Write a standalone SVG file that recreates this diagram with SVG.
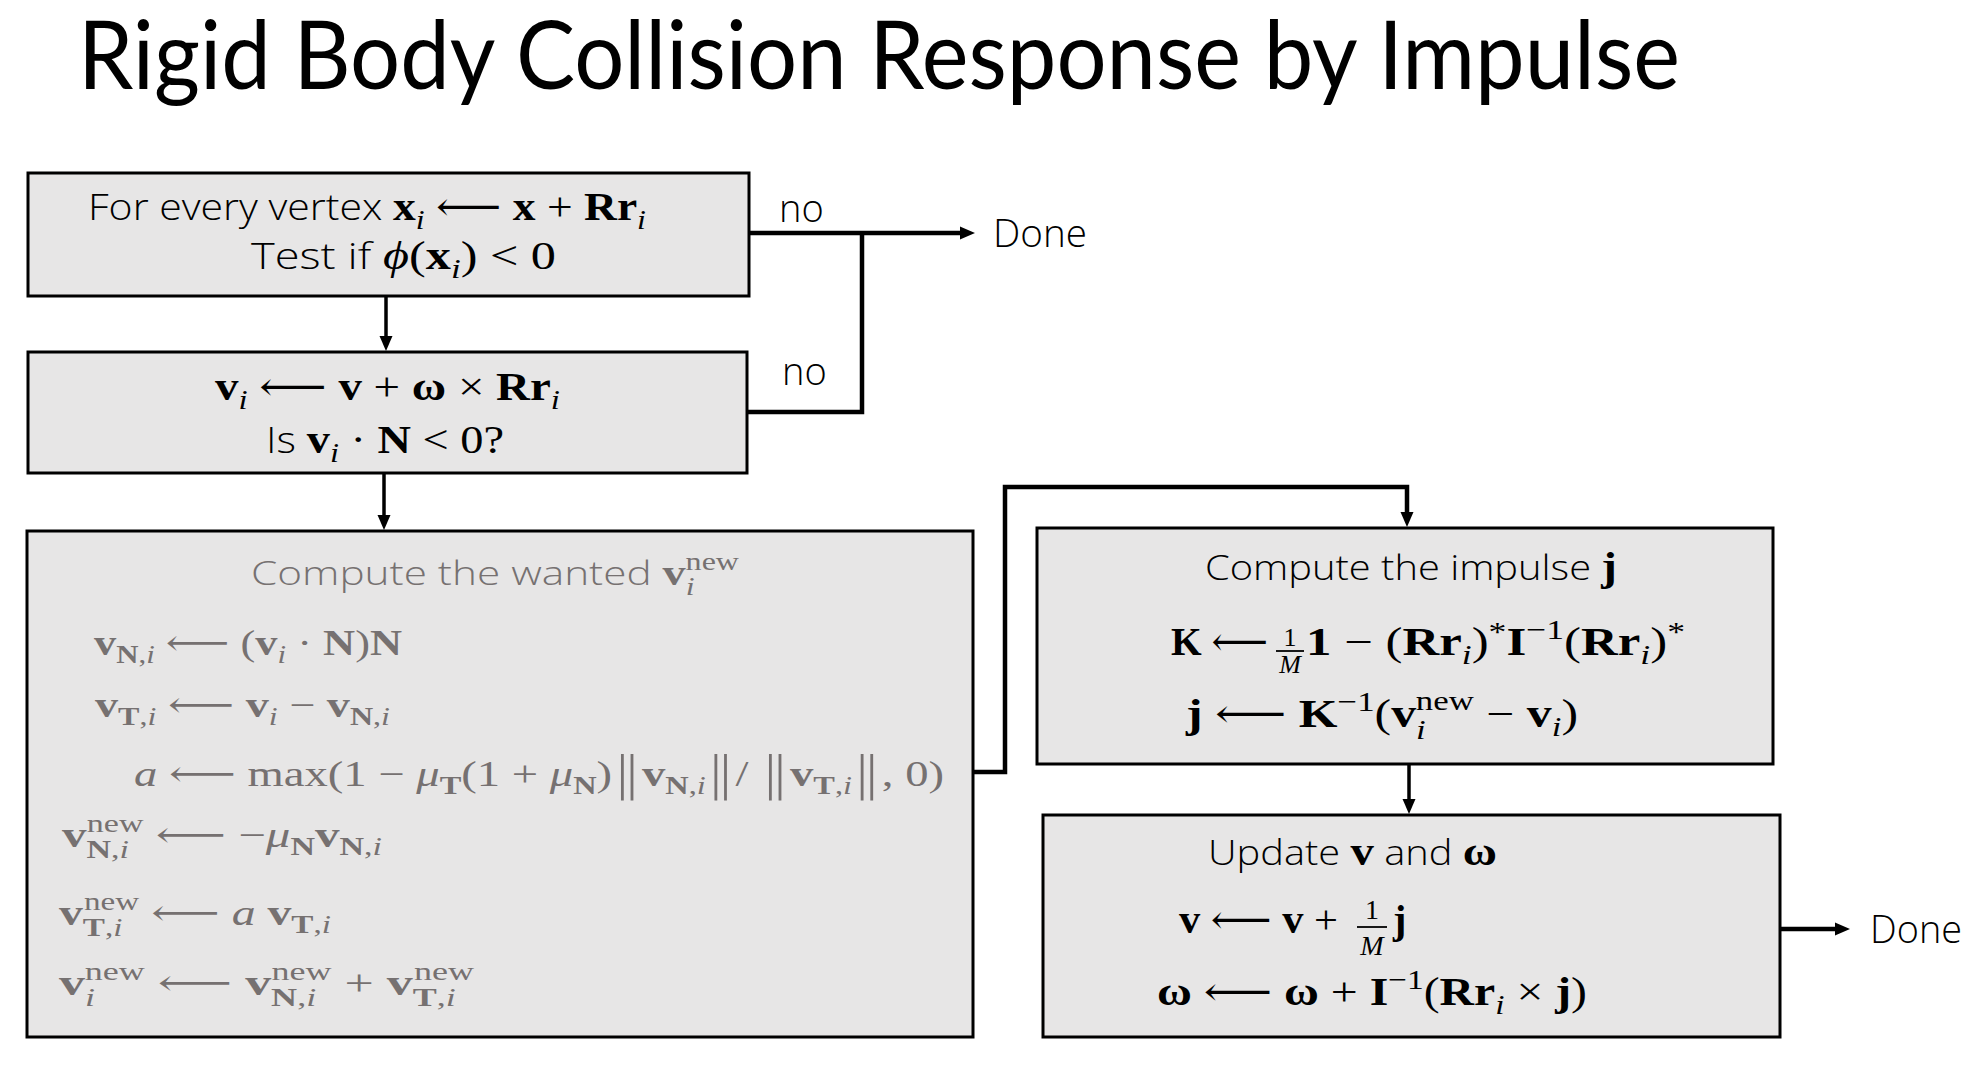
<svg xmlns="http://www.w3.org/2000/svg" width="1978" height="1072" viewBox="0 0 1978 1072">
<style>
.box{fill:#e7e6e6;stroke:#000;stroke-width:3}
.tx{font-family:"Open Sans","Noto Sans",sans-serif;font-weight:300}
.mf{font-family:"Liberation Serif","DejaVu Serif",serif}
.L{font-size:40px}.S{font-size:28px}.L3{font-size:36px}.S3{font-size:25px}
.nb{font-family:"DejaVu Sans",sans-serif;font-size:46px;font-weight:300}
.bd{font-weight:700}.it{font-style:italic}
.gray{fill:#767171}
.conn{fill:none;stroke:#000;stroke-width:4.5}
.thin{stroke-width:3.5}
</style>
<defs>
<marker id="ah" markerUnits="userSpaceOnUse" markerWidth="16" markerHeight="14" refX="4" refY="7" orient="auto">
<path d="M0,0.5 L15,7 L0,13.5 z" fill="#000"/>
</marker>
</defs>
<rect width="1978" height="1072" fill="#fff"/>
<text id="title" x="78" y="89" font-family="Lato,'Open Sans',sans-serif" font-size="95" textLength="1602" lengthAdjust="spacingAndGlyphs">Rigid Body Collision Response by Impulse</text>

<g id="node-test">
<rect class="box" x="28" y="173" width="721" height="123"/>
<text class="tx" x="88" y="220" font-size="36" textLength="558" lengthAdjust="spacingAndGlyphs">For every vertex <tspan class="mf L bd">x</tspan><tspan class="mf S it" dy="9">i</tspan><tspan class="mf L" dy="-9"> ⟵ </tspan><tspan class="mf L bd">x</tspan><tspan class="mf L"> + </tspan><tspan class="mf L bd">Rr</tspan><tspan class="mf S it" dy="9">i</tspan></text>
<text class="tx" x="251" y="269" font-size="36" textLength="305" lengthAdjust="spacingAndGlyphs">Test if <tspan class="mf L it">ϕ</tspan><tspan class="mf L">(</tspan><tspan class="mf L bd">x</tspan><tspan class="mf S it" dy="9">i</tspan><tspan class="mf L" dy="-9">) &lt; 0</tspan></text>
</g>

<g id="node-velocity">
<rect class="box" x="28" y="352" width="719" height="121"/>
<text class="mf L" x="215" y="400" textLength="345" lengthAdjust="spacingAndGlyphs"><tspan class="bd">v</tspan><tspan class="S it" dy="9">i</tspan><tspan dy="-9"> ⟵ </tspan><tspan class="bd">v</tspan> + <tspan class="bd">ω</tspan> × <tspan class="bd">Rr</tspan><tspan class="S it" dy="9">i</tspan></text>
<text class="tx" x="266" y="453" font-size="36" textLength="238" lengthAdjust="spacingAndGlyphs">Is <tspan class="mf L bd">v</tspan><tspan class="mf S it" dy="9">i</tspan><tspan class="mf L" dy="-9"> · </tspan><tspan class="mf L bd">N</tspan><tspan class="mf L"> &lt; 0?</tspan></text>
</g>

<g id="node-wanted" class="gray">
<rect class="box" x="27" y="531" width="946" height="506"/>
<text class="tx" x="251" y="585" font-size="33" textLength="488" lengthAdjust="spacingAndGlyphs">Compute the wanted <tspan class="mf L3 bd">v</tspan><tspan class="mf S3 it" dy="10">i</tspan><tspan class="mf S3" dx="-7" dy="-25">new</tspan></text>
<text class="mf L3" x="94" y="655" textLength="308" lengthAdjust="spacingAndGlyphs"><tspan class="bd">v</tspan><tspan class="S3" dy="8"><tspan class="bd">N</tspan>,<tspan class="it">i</tspan></tspan><tspan dy="-8"> ⟵ (</tspan><tspan class="bd">v</tspan><tspan class="S3 it" dy="8">i</tspan><tspan dy="-8"> · </tspan><tspan class="bd">N</tspan>)<tspan class="bd">N</tspan></text>
<text class="mf L3" x="95" y="717" textLength="295" lengthAdjust="spacingAndGlyphs"><tspan class="bd">v</tspan><tspan class="S3" dy="8"><tspan class="bd">T</tspan>,<tspan class="it">i</tspan></tspan><tspan dy="-8"> ⟵ </tspan><tspan class="bd">v</tspan><tspan class="S3 it" dy="8">i</tspan><tspan dy="-8"> − </tspan><tspan class="bd">v</tspan><tspan class="S3" dy="8"><tspan class="bd">N</tspan>,<tspan class="it">i</tspan></tspan></text>
<text class="mf L3" x="134" y="786" textLength="810" lengthAdjust="spacingAndGlyphs"><tspan class="it">a</tspan> ⟵ max(1 − <tspan class="it">μ</tspan><tspan class="S3 bd" dy="8">T</tspan><tspan dy="-8">(1 + </tspan><tspan class="it">μ</tspan><tspan class="S3 bd" dy="8">N</tspan><tspan dy="-8">)</tspan><tspan class="nb" dy="3">‖</tspan><tspan class="bd" dy="-3">v</tspan><tspan class="S3" dy="8"><tspan class="bd">N</tspan>,<tspan class="it">i</tspan></tspan><tspan class="nb" dy="-5">‖</tspan><tspan dy="-3">/ </tspan><tspan class="nb" dy="3">‖</tspan><tspan class="bd" dy="-3">v</tspan><tspan class="S3" dy="8"><tspan class="bd">T</tspan>,<tspan class="it">i</tspan></tspan><tspan class="nb" dy="-5">‖</tspan><tspan dy="-3">, 0)</tspan></text>
<text class="mf L3" x="62" y="847" textLength="320" lengthAdjust="spacingAndGlyphs"><tspan class="bd">v</tspan><tspan class="S3" dy="11"><tspan class="bd">N</tspan>,<tspan class="it">i</tspan></tspan><tspan class="S3" dx="-31" dy="-26">new</tspan><tspan dy="15"> ⟵ −</tspan><tspan class="it">μ</tspan><tspan class="S3 bd" dy="8">N</tspan><tspan class="bd" dy="-8">v</tspan><tspan class="S3" dy="8"><tspan class="bd">N</tspan>,<tspan class="it">i</tspan></tspan></text>
<text class="mf L3" x="59" y="925" textLength="272" lengthAdjust="spacingAndGlyphs"><tspan class="bd">v</tspan><tspan class="S3" dy="11"><tspan class="bd">T</tspan>,<tspan class="it">i</tspan></tspan><tspan class="S3" dx="-29" dy="-26">new</tspan><tspan dy="15"> ⟵ </tspan><tspan class="it">a</tspan> <tspan class="bd">v</tspan><tspan class="S3" dy="8"><tspan class="bd">T</tspan>,<tspan class="it">i</tspan></tspan></text>
<text class="mf L3" x="59" y="995" textLength="415" lengthAdjust="spacingAndGlyphs"><tspan class="bd">v</tspan><tspan class="S3 it" dy="11">i</tspan><tspan class="S3" dx="-7" dy="-26">new</tspan><tspan dy="15"> ⟵ </tspan><tspan class="bd">v</tspan><tspan class="S3" dy="11"><tspan class="bd">N</tspan>,<tspan class="it">i</tspan></tspan><tspan class="S3" dx="-31" dy="-26">new</tspan><tspan dy="15"> + </tspan><tspan class="bd">v</tspan><tspan class="S3" dy="11"><tspan class="bd">T</tspan>,<tspan class="it">i</tspan></tspan><tspan class="S3" dx="-29" dy="-26">new</tspan></text>
</g>

<g id="node-impulse">
<rect class="box" x="1037" y="528" width="736" height="236"/>
<text class="tx" x="1205" y="580" font-size="34" textLength="412" lengthAdjust="spacingAndGlyphs">Compute the impulse <tspan class="mf L bd">j</tspan></text>
<text class="mf L" x="1171" y="655" textLength="97" lengthAdjust="spacingAndGlyphs"><tspan class="bd">K</tspan> ⟵</text>
<text class="mf" x="1290" y="646" font-size="26" text-anchor="middle">1</text>
<line x1="1276" y1="651" x2="1304" y2="651" stroke="#000" stroke-width="1.8"/>
<text class="mf it" x="1290" y="673" font-size="26" text-anchor="middle">M</text>
<text class="mf L" x="1306" y="655" textLength="379" lengthAdjust="spacingAndGlyphs"><tspan class="bd">1</tspan> − (<tspan class="bd">Rr</tspan><tspan class="S it" dy="9">i</tspan><tspan dy="-9">)</tspan><tspan class="S" dy="-14">*</tspan><tspan class="bd" dy="14">I</tspan><tspan class="S" dy="-16">−1</tspan><tspan dy="16">(</tspan><tspan class="bd">Rr</tspan><tspan class="S it" dy="9">i</tspan><tspan dy="-9">)</tspan><tspan class="S" dy="-14">*</tspan></text>
<text class="mf L" x="1186" y="727" textLength="392" lengthAdjust="spacingAndGlyphs"><tspan class="bd">j</tspan> ⟵ <tspan class="bd">K</tspan><tspan class="S" dy="-16">−1</tspan><tspan dy="16">(</tspan><tspan class="bd">v</tspan><tspan class="S it" dy="12">i</tspan><tspan class="S" dx="-8" dy="-29">new</tspan><tspan dy="17"> − </tspan><tspan class="bd">v</tspan><tspan class="S it" dy="9">i</tspan><tspan dy="-9">)</tspan></text>
</g>

<g id="node-update">
<rect class="box" x="1043" y="815" width="737" height="222"/>
<text class="tx" x="1208" y="865" font-size="34" textLength="289" lengthAdjust="spacingAndGlyphs">Update <tspan class="mf L bd">v</tspan> and <tspan class="mf L bd">ω</tspan></text>
<text class="mf L" x="1179" y="933" textLength="159" lengthAdjust="spacingAndGlyphs"><tspan class="bd">v</tspan> ⟵ <tspan class="bd">v</tspan> +</text>
<text class="mf" x="1372" y="919" font-size="28" text-anchor="middle">1</text>
<line x1="1357" y1="927" x2="1387" y2="927" stroke="#000" stroke-width="1.8"/>
<text class="mf it" x="1372" y="955" font-size="28" text-anchor="middle">M</text>
<text class="mf L bd" x="1393" y="933">j</text>
<text class="mf L" x="1157" y="1005" textLength="430" lengthAdjust="spacingAndGlyphs"><tspan class="bd">ω</tspan> ⟵ <tspan class="bd">ω</tspan> + <tspan class="bd">I</tspan><tspan class="S" dy="-16">−1</tspan><tspan dy="16">(</tspan><tspan class="bd">Rr</tspan><tspan class="S it" dy="9">i</tspan><tspan dy="-9"> × </tspan><tspan class="bd">j</tspan>)</text>
</g>

<g id="labels" class="tx" font-size="38">
<text x="779" y="222">no</text>
<text x="782" y="385">no</text>
<text x="993" y="247" textLength="94" lengthAdjust="spacingAndGlyphs">Done</text>
<text x="1870" y="943" textLength="92" lengthAdjust="spacingAndGlyphs">Done</text>
</g>

<g id="connectors">
<path class="conn thin" d="M386,296 V340" marker-end="url(#ah)"/>
<path class="conn" d="M749,233 H964" marker-end="url(#ah)"/>
<path class="conn" d="M747,412 H862 V231"/>
<path class="conn thin" d="M384,473 V519" marker-end="url(#ah)"/>
<path class="conn" d="M973,772 H1005 V487 H1407 V516" marker-end="url(#ah)"/>
<path class="conn thin" d="M1409,764 V803" marker-end="url(#ah)"/>
<path class="conn" d="M1780,929 H1839" marker-end="url(#ah)"/>
</g>
</svg>
